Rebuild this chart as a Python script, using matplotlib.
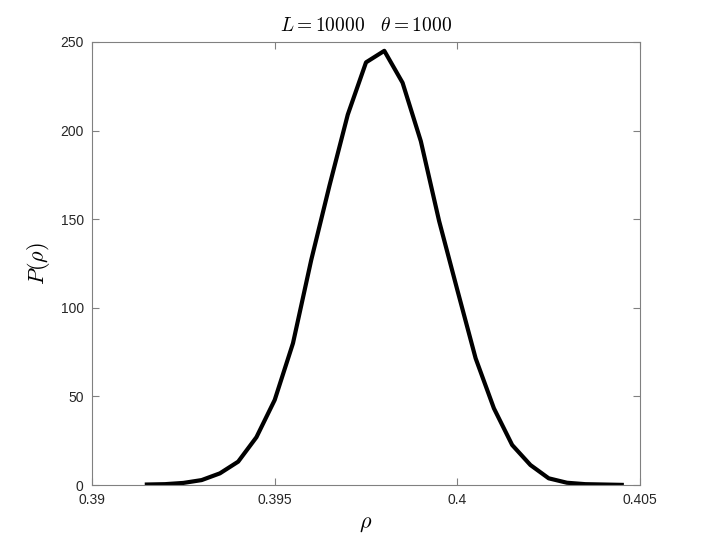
import matplotlib
matplotlib.use("Agg")
import matplotlib.pyplot as plt

plt.rcParams['mathtext.fontset'] = 'cm'
plt.rcParams['font.family'] = ['Liberation Sans', 'DejaVu Sans']

# Datos
rho = [0.3915, 0.3920, 0.3925, 0.3930, 0.3935, 0.3940, 0.3945, 0.3950,
       0.3955, 0.3960, 0.3965, 0.3970, 0.3975, 0.3980, 0.3985, 0.3990,
       0.3995, 0.4000, 0.4005, 0.4010, 0.4015, 0.4020, 0.4025, 0.4030,
       0.4035, 0.4040, 0.4045]
P = [0.3, 0.5, 1.2, 2.8, 6.6, 13.2, 27, 48,
     80, 127, 169, 209, 238.5, 245, 227, 194,
     149, 110, 71.5, 43.3, 22.6, 11.3, 3.8, 1.3,
     0.5, 0.3, 0.1]

xticks = [0.39, 0.395, 0.4, 0.405]
xtick_labels = ["0.39", "0.395", "0.4", "0.405"]
yticks = [0, 50, 100, 150, 200, 250]

fig = plt.figure(figsize=(7.08, 5.45), dpi=100)
ax = fig.add_axes([0.130, 0.110, 0.774, 0.813])

ax.plot(rho, P, color="black", lw=3)

ax.set_xlim(0.39, 0.405)
ax.set_ylim(0, 250)
ax.set_xticks(xticks)
ax.set_xticklabels(xtick_labels)
ax.set_yticks(yticks)

gris = "#808080"
for s in ax.spines.values():
    s.set_color(gris)
    s.set_linewidth(0.8)
ax.tick_params(direction="in", top=True, right=True, length=5, width=0.8,
               color=gris, labelsize=10, labelcolor="#262626")
ax.tick_params(axis="x", pad=6)
ax.tick_params(axis="y", pad=6)

ax.set_title(r"$L = 10000 \quad \theta = 1000$", fontsize=14, pad=8)
ax.set_xlabel(r"$\rho$", fontsize=16, labelpad=4)
ax.set_ylabel(r"$P(\rho)$", fontsize=16, labelpad=6)

fig.savefig("out.png", dpi=100)
